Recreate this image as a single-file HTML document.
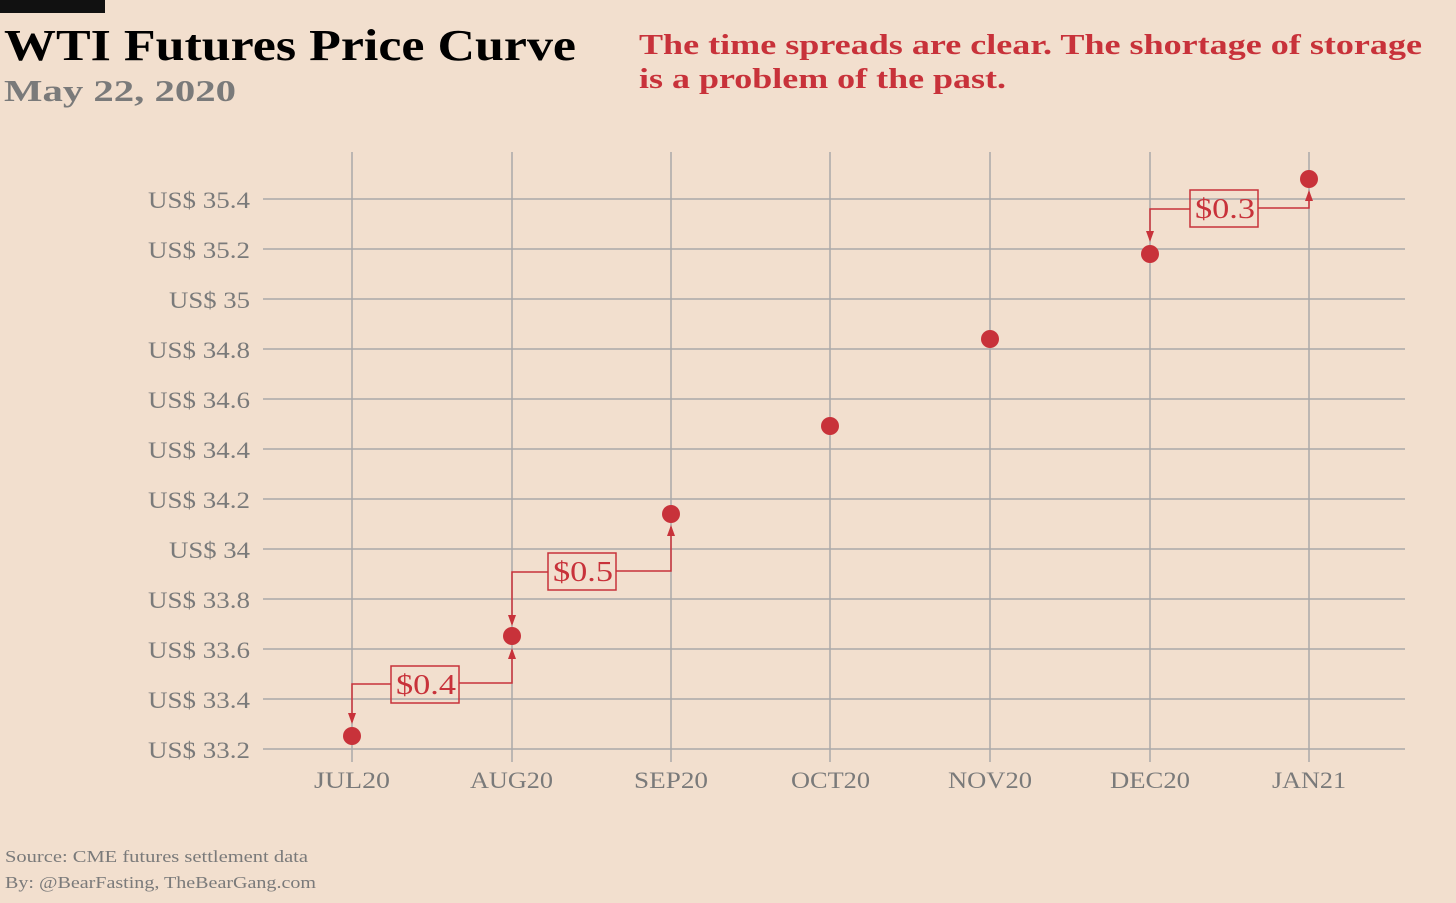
<!DOCTYPE html>
<html><head><meta charset="utf-8"><style>
html,body{margin:0;padding:0;background:#f2dfce;}
svg{display:block}
text{font-family:"Liberation Serif",serif;}
</style></head><body>
<svg width="1456" height="903" viewBox="0 0 1456 903" xmlns="http://www.w3.org/2000/svg">
<rect width="1456" height="903" fill="#f2dfce"/>
<rect x="0" y="0" width="105" height="13" fill="#111"/>
<text x="4" y="60" font-size="44" font-weight="bold" fill="#000" textLength="572" lengthAdjust="spacingAndGlyphs">WTI Futures Price Curve</text>
<text x="4" y="101" font-size="31" font-weight="bold" fill="#7a7a7a" textLength="232" lengthAdjust="spacingAndGlyphs">May 22, 2020</text>
<text x="639" y="54" font-size="29" font-weight="bold" fill="#c8323a" textLength="783" lengthAdjust="spacingAndGlyphs">The time spreads are clear. The shortage of storage</text>
<text x="639" y="88" font-size="29" font-weight="bold" fill="#c8323a" textLength="367" lengthAdjust="spacingAndGlyphs">is a problem of the past.</text>
<g stroke="#a9a9a9" stroke-width="1.5">
<line x1="263" x2="1405" y1="199" y2="199"/><line x1="263" x2="1405" y1="249" y2="249"/>
<line x1="263" x2="1405" y1="299" y2="299"/><line x1="263" x2="1405" y1="349" y2="349"/>
<line x1="263" x2="1405" y1="399" y2="399"/><line x1="263" x2="1405" y1="449" y2="449"/>
<line x1="263" x2="1405" y1="499" y2="499"/><line x1="263" x2="1405" y1="549" y2="549"/>
<line x1="263" x2="1405" y1="599" y2="599"/><line x1="263" x2="1405" y1="649" y2="649"/>
<line x1="263" x2="1405" y1="699" y2="699"/><line x1="263" x2="1405" y1="749" y2="749"/>
<line x1="352" x2="352" y1="152" y2="762"/><line x1="512" x2="512" y1="152" y2="762"/>
<line x1="671" x2="671" y1="152" y2="762"/><line x1="830" x2="830" y1="152" y2="762"/>
<line x1="990" x2="990" y1="152" y2="762"/><line x1="1150" x2="1150" y1="152" y2="762"/>
<line x1="1309" x2="1309" y1="152" y2="762"/>
</g>
<g font-size="23" fill="#7a7a7a">
<text x="148" y="208" textLength="102" lengthAdjust="spacingAndGlyphs">US$ 35.4</text>
<text x="148" y="258" textLength="102" lengthAdjust="spacingAndGlyphs">US$ 35.2</text>
<text x="169" y="308" textLength="81" lengthAdjust="spacingAndGlyphs">US$ 35</text>
<text x="148" y="358" textLength="102" lengthAdjust="spacingAndGlyphs">US$ 34.8</text>
<text x="148" y="408" textLength="102" lengthAdjust="spacingAndGlyphs">US$ 34.6</text>
<text x="148" y="458" textLength="102" lengthAdjust="spacingAndGlyphs">US$ 34.4</text>
<text x="148" y="508" textLength="102" lengthAdjust="spacingAndGlyphs">US$ 34.2</text>
<text x="169" y="558" textLength="81" lengthAdjust="spacingAndGlyphs">US$ 34</text>
<text x="148" y="608" textLength="102" lengthAdjust="spacingAndGlyphs">US$ 33.8</text>
<text x="148" y="658" textLength="102" lengthAdjust="spacingAndGlyphs">US$ 33.6</text>
<text x="148" y="708" textLength="102" lengthAdjust="spacingAndGlyphs">US$ 33.4</text>
<text x="148" y="758" textLength="102" lengthAdjust="spacingAndGlyphs">US$ 33.2</text>
</g>
<g font-size="23" fill="#7a7a7a">
<text x="314" y="788" textLength="76" lengthAdjust="spacingAndGlyphs">JUL20</text>
<text x="470" y="788" textLength="83" lengthAdjust="spacingAndGlyphs">AUG20</text>
<text x="634" y="788" textLength="74" lengthAdjust="spacingAndGlyphs">SEP20</text>
<text x="791" y="788" textLength="79" lengthAdjust="spacingAndGlyphs">OCT20</text>
<text x="948" y="788" textLength="84" lengthAdjust="spacingAndGlyphs">NOV20</text>
<text x="1110" y="788" textLength="80" lengthAdjust="spacingAndGlyphs">DEC20</text>
<text x="1272" y="788" textLength="74" lengthAdjust="spacingAndGlyphs">JAN21</text>
</g>
<g fill="none" stroke="#c8323a" stroke-width="1.5">
<polyline points="352,722 352,684 391,684"/><polyline points="459,683 512,683 512,650"/>
<rect x="391" y="666" width="68" height="37"/>
<polyline points="512,624 512,572 548,572"/><polyline points="616,571 671,571 671,527"/>
<rect x="548" y="553" width="68" height="37"/>
<polyline points="1150,240 1150,209 1190,209"/><polyline points="1258,208 1309,208 1309,192"/>
<rect x="1190" y="190" width="68" height="37"/>
</g>
<g fill="#c8323a">
<polygon points="352,724 348,713 356,713"/><polygon points="512,648 508,659 516,659"/>
<polygon points="512,626 508,615 516,615"/><polygon points="671,525 667,536 675,536"/>
<polygon points="1150,242 1146,231 1154,231"/><polygon points="1309,190 1305,201 1313,201"/>
<circle cx="352" cy="736" r="9"/><circle cx="512" cy="636" r="9"/>
<circle cx="671" cy="514" r="9"/><circle cx="830" cy="426" r="9"/>
<circle cx="990" cy="339" r="9"/><circle cx="1150" cy="254" r="9"/>
<circle cx="1309" cy="179" r="9"/>
</g>
<g font-size="29" fill="#c8323a">
<text x="396" y="694" textLength="60" lengthAdjust="spacingAndGlyphs">$0.4</text>
<text x="553" y="581" textLength="60" lengthAdjust="spacingAndGlyphs">$0.5</text>
<text x="1195" y="218" textLength="60" lengthAdjust="spacingAndGlyphs">$0.3</text>
</g>
<text x="5" y="862" font-size="17" fill="#7a7a7a" textLength="303" lengthAdjust="spacingAndGlyphs">Source: CME futures settlement data</text>
<text x="5" y="888" font-size="17" fill="#7a7a7a" textLength="311" lengthAdjust="spacingAndGlyphs">By: @BearFasting, TheBearGang.com</text>
</svg>
</body></html>
